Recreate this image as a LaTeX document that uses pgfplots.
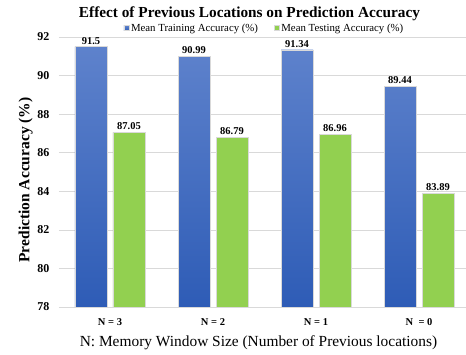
\documentclass[border=0pt]{standalone}
\usepackage{pgfplots}
\pgfplotsset{compat=1.18}
\usepackage{fontspec}
\setmainfont{Liberation Serif}
\definecolor{bluetop}{HTML}{5E82CC}
\definecolor{bluebot}{HTML}{2E5CB6}
\definecolor{greenbar}{HTML}{92D050}
\definecolor{gridgray}{HTML}{D9D9D9}
\begin{document}
\begin{tikzpicture}[x=1pt,y=1pt]
\useasboundingbox (-59,-47) rectangle (407,307);
\begin{axis}[
  at={(0,0)}, anchor=south west,
  scale only axis,
  width=407pt, height=270pt,
  xmin=-0.495, xmax=3.456,
  ymin=78, ymax=92,
  ytick={78,80,...,92},
  xtick={0,1,2,3},
  xticklabels={N = 3, N = 2, N = 1, N \ = 0},
  ymajorgrids,
  grid style={gridgray, line width=0.6pt},
  axis line style={draw=none},
  major tick length=0pt,
  tick style={draw=none},
  ybar, bar width=32pt,
  yticklabel style={font=\bfseries\fontsize{12}{14}\selectfont, xshift=-6pt},
  xticklabel style={font=\bfseries\fontsize{10.5}{12}\selectfont, yshift=-8pt},
  /pgf/number format/assume math mode=true,
  ylabel={Prediction Accuracy (\%)},
  ylabel style={font=\bfseries\fontsize{15.5}{17}\selectfont, yshift=-2pt, xshift=-8pt},
  xlabel={N: Memory Window Size (Number of Previous locations)},
  xlabel style={font=\fontsize{15.4}{18}\selectfont, yshift=-3pt, xshift=-4pt},
  title={Effect of Previous Locations on Prediction Accuracy},
  title style={font=\bfseries\fontsize{15.3}{17}\selectfont, at={(0.5,1)}, anchor=center, yshift=17pt, xshift=-13pt},
  legend style={draw=none, fill=none, at={(0.5,1.033)}, anchor=center, xshift=2pt,
    legend columns=2, font=\fontsize{10.8}{12}\selectfont,
    /tikz/every even column/.append style={column sep=14pt}},
  legend image code/.code={\fill[#1] (0pt,-2.5pt) rectangle (5pt,2.5pt);},
  nodes near coords,
  every node near coord/.append style={font=\bfseries\fontsize{10.5}{12}\selectfont, yshift=-1pt},
  point meta=explicit symbolic,
  clip=false,
]
\addplot[draw=gridgray, line width=0.3pt, bottom color=bluebot, top color=bluetop, bar shift=-19pt]
  coordinates {(0,91.5) [91.5] (1,90.99) [90.99] (2,91.34) [91.34] (3,89.44) [89.44]};
\addlegendentry{Mean Training Accuracy (\%)}
\addplot[draw=gridgray, line width=0.3pt, fill=greenbar, bar shift=19pt]
  coordinates {(0,87.05) [87.05] (1,86.79) [86.79] (2,86.96) [86.96] (3,83.89) [83.89]};
\addlegendentry{Mean Testing Accuracy (\%)}
\end{axis}
\end{tikzpicture}
\end{document}
